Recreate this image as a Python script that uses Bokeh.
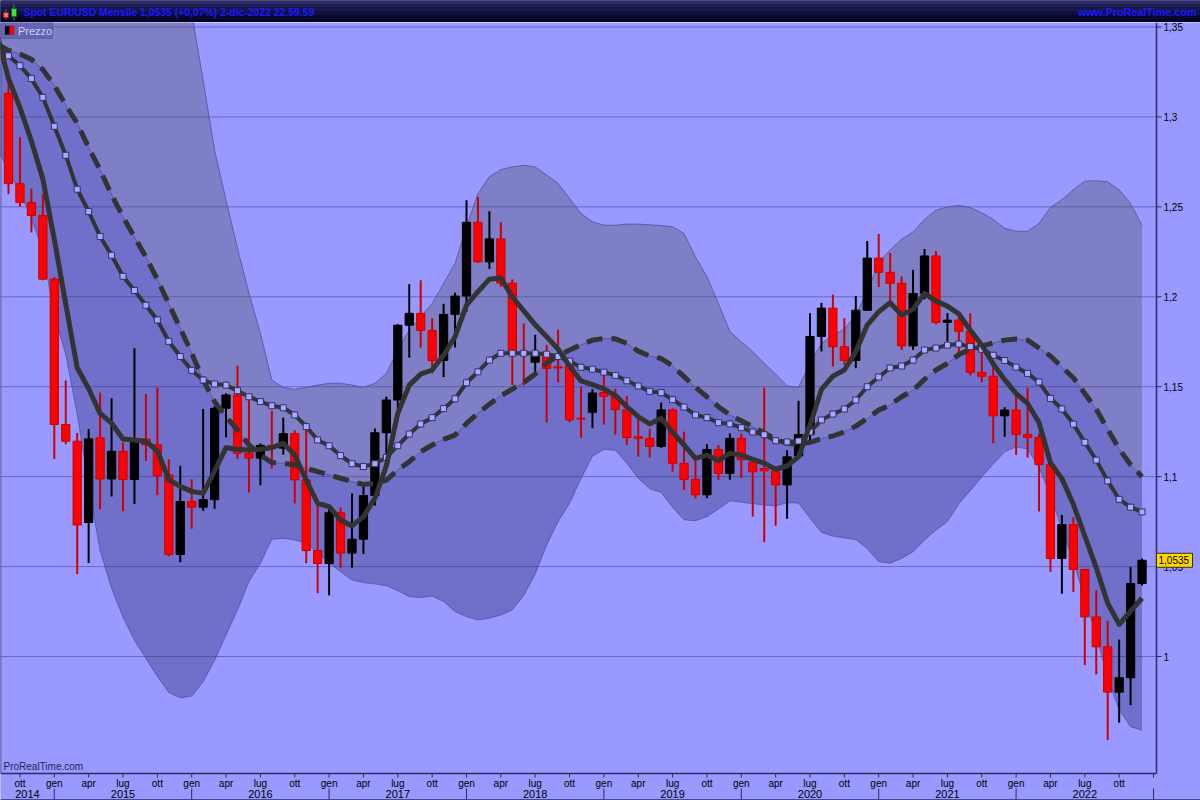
from bokeh.plotting import figure
from bokeh.models import Range1d, Label, BoxAnnotation, ColumnDataSource
from bokeh.layouts import column
from bokeh.embed import file_html
from bokeh.resources import INLINE
from bokeh.core.properties import value

# ---------------- DATA (monthly EUR/USD, Sep 2014 .. Dec 2022) ----------------
first_year, first_month = 2014, 9          # first candle: Sep 2014
month_names = ["gen", "feb", "mar", "apr", "mag", "giu",
               "lug", "ago", "set", "ott", "nov", "dic"]

opens = [
    1.3131, 1.2629, 1.2524, 1.2452,
    1.2098, 1.1290, 1.1197, 1.0745, 1.1216, 1.0987, 1.1141, 1.0984, 1.1209, 1.1177, 1.1010, 1.0567,
    1.0862, 1.0830, 1.0872, 1.1380, 1.1454, 1.1130, 1.1103, 1.1174, 1.1158, 1.1239, 1.0982, 1.0589,
    1.0517, 1.0799, 1.0575, 1.0652, 1.0895, 1.1244, 1.1426, 1.1842, 1.1908, 1.1813, 1.1646, 1.1902,
    1.2004, 1.2414, 1.2194, 1.2322, 1.2076, 1.1694, 1.1636, 1.1667, 1.1610, 1.1617, 1.1325, 1.1358,
    1.1467, 1.1446, 1.1372, 1.1222, 1.1213, 1.1168, 1.1371, 1.1074, 1.0985, 1.0899, 1.1151, 1.1018,
    1.1213, 1.1080, 1.1044, 1.1030, 1.0954, 1.1115, 1.1234, 1.1779, 1.1937, 1.1722, 1.1646, 1.1925,
    1.2215, 1.2136, 1.2075, 1.1727, 1.2018, 1.2227, 1.1858, 1.1870, 1.1808, 1.1580, 1.1558, 1.1338,
    1.1370, 1.1235, 1.1218, 1.1067, 1.0545, 1.0733, 1.0484, 1.0220, 1.0054, 0.9802, 0.9882, 1.0406,
]
highs = [
    1.3222, 1.2887, 1.2601, 1.2570,
    1.2109, 1.1534, 1.1243, 1.1265, 1.1467, 1.1436, 1.1190, 1.1714, 1.1460, 1.1495, 1.1096, 1.1060,
    1.0986, 1.1376, 1.1392, 1.1464, 1.1616, 1.1428, 1.1185, 1.1366, 1.1328, 1.1257, 1.1300, 1.0874,
    1.0829, 1.0829, 1.0906, 1.0950, 1.1268, 1.1445, 1.1847, 1.2070, 1.2092, 1.1880, 1.1961, 1.2023,
    1.2537, 1.2555, 1.2476, 1.2414, 1.2097, 1.1852, 1.1789, 1.1733, 1.1817, 1.1625, 1.1500, 1.1487,
    1.1570, 1.1489, 1.1448, 1.1324, 1.1265, 1.1412, 1.1380, 1.1250, 1.1110, 1.1180, 1.1176, 1.1240,
    1.1240, 1.1096, 1.1495, 1.1048, 1.1147, 1.1422, 1.1908, 1.1966, 1.2012, 1.1881, 1.2004, 1.2310,
    1.2349, 1.2243, 1.2113, 1.2150, 1.2266, 1.2254, 1.1909, 1.1900, 1.1909, 1.1692, 1.1616, 1.1386,
    1.1483, 1.1495, 1.1240, 1.1076, 1.0787, 1.0774, 1.0486, 1.0369, 1.0198, 1.0094, 1.0497, 1.0545,
]
lows = [
    1.2571, 1.2501, 1.2358, 1.2092,
    1.1098, 1.1180, 1.0458, 1.0520, 1.0819, 1.0889, 1.0808, 1.0848, 1.1087, 1.0897, 1.0557, 1.0524,
    1.0710, 1.0810, 1.0822, 1.1217, 1.1098, 1.0912, 1.0952, 1.1046, 1.1122, 1.0851, 1.0518, 1.0352,
    1.0340, 1.0494, 1.0494, 1.0570, 1.0839, 1.1118, 1.1312, 1.1662, 1.1717, 1.1574, 1.1554, 1.1718,
    1.1916, 1.2190, 1.2155, 1.2055, 1.1510, 1.1508, 1.1574, 1.1301, 1.1524, 1.1302, 1.1216, 1.1269,
    1.1289, 1.1234, 1.1176, 1.1110, 1.1107, 1.1160, 1.1028, 1.0926, 1.0879, 1.0880, 1.0981, 1.0983,
    1.0992, 1.0778, 1.0636, 1.0727, 1.0766, 1.1105, 1.1185, 1.1696, 1.1612, 1.1622, 1.1603, 1.1925,
    1.2054, 1.1952, 1.1704, 1.1704, 1.1986, 1.1847, 1.1752, 1.1664, 1.1563, 1.1524, 1.1186, 1.1222,
    1.1121, 1.1106, 1.0806, 1.0471, 1.0349, 1.0359, 0.9952, 0.9901, 0.9536, 0.9632, 0.9730, 1.0394,
]
closes = [
    1.2629, 1.2524, 1.2452, 1.2098,
    1.1290, 1.1197, 1.0731, 1.1210, 1.0987, 1.1141, 1.0984, 1.1195, 1.1177, 1.1005, 1.0567, 1.0862,
    1.0830, 1.0872, 1.1380, 1.1454, 1.1130, 1.1103, 1.1174, 1.1158, 1.1239, 1.0982, 1.0589, 1.0517,
    1.0799, 1.0575, 1.0652, 1.0895, 1.1244, 1.1426, 1.1842, 1.1908, 1.1813, 1.1646, 1.1902, 1.2004,
    1.2414, 1.2194, 1.2322, 1.2076, 1.1694, 1.1684, 1.1672, 1.1602, 1.1604, 1.1315, 1.1320, 1.1465,
    1.1446, 1.1372, 1.1217, 1.1213, 1.1168, 1.1371, 1.1074, 1.0985, 1.0899, 1.1151, 1.1018, 1.1213,
    1.1094, 1.1027, 1.1032, 1.0954, 1.1110, 1.1234, 1.1779, 1.1937, 1.1722, 1.1646, 1.1925, 1.2215,
    1.2136, 1.2075, 1.1727, 1.2018, 1.2227, 1.1858, 1.1870, 1.1808, 1.1580, 1.1558, 1.1338, 1.1370,
    1.1235, 1.1218, 1.1067, 1.0545, 1.0733, 1.0484, 1.0220, 1.0054, 0.9802, 0.9882, 1.0406, 1.0535,
]

# indicators start one month earlier (Aug 2014) so they reach the left edge
fast_ma = [  # thick solid line
    1.346, 1.3213, 1.3052, 1.2866, 1.2655,
    1.232, 1.196, 1.1605, 1.1489, 1.1352, 1.1298, 1.1209, 1.1204, 1.1196, 1.1144, 1.0983, 1.0946,
    1.0918, 1.0907, 1.1032, 1.1161, 1.1152, 1.1148, 1.1152, 1.1161, 1.1185, 1.112, 1.0981, 1.0852,
    1.0833, 1.0759, 1.0726, 1.0778, 1.088, 1.106, 1.1352, 1.1509, 1.157, 1.1593, 1.1676, 1.1778,
    1.1954, 1.2028, 1.2098, 1.2104, 1.2, 1.1922, 1.1844, 1.1778, 1.1709, 1.1615, 1.1532, 1.1512,
    1.1488, 1.1452, 1.1389, 1.1333, 1.1293, 1.1324, 1.1248, 1.1176, 1.1102, 1.112, 1.1089, 1.113,
    1.112, 1.1096, 1.1075, 1.1041, 1.1059, 1.1111, 1.1287, 1.1485, 1.1559, 1.1593, 1.1694, 1.1843,
    1.1917, 1.1967, 1.1898, 1.193, 1.2019, 1.1976, 1.1948, 1.1905, 1.1814, 1.1732, 1.1627, 1.1539,
    1.1462, 1.1407, 1.1301, 1.1077, 1.0989, 1.0846, 1.067, 1.0494, 1.0296, 1.0179, 1.0252, 1.0324,
]
mid_ma = [  # line with square markers
    1.340, 1.334, 1.3285, 1.3213, 1.3109,
    1.2948, 1.2787, 1.2598, 1.2474, 1.2335, 1.2231, 1.2114, 1.2035, 1.1953, 1.1871, 1.1752, 1.1668,
    1.1591, 1.1537, 1.1515, 1.1509, 1.1478, 1.1444, 1.1417, 1.1394, 1.1383, 1.1343, 1.1278, 1.1204,
    1.1172, 1.1117, 1.1072, 1.1056, 1.1072, 1.1107, 1.1172, 1.1237, 1.1293, 1.1328, 1.1378, 1.1433,
    1.1522, 1.1583, 1.1648, 1.1686, 1.1686, 1.1686, 1.1686, 1.1681, 1.1668, 1.1642, 1.1608, 1.1597,
    1.1581, 1.1563, 1.1533, 1.1504, 1.1474, 1.1467, 1.1428, 1.1387, 1.1343, 1.1328, 1.13, 1.1293,
    1.1272, 1.1248, 1.1233, 1.12, 1.1193, 1.1198, 1.1248, 1.1315, 1.1348, 1.1376, 1.1426, 1.15,
    1.1554, 1.1604, 1.1615, 1.1648, 1.1704, 1.1715, 1.1731, 1.1737, 1.1723, 1.1708, 1.1675, 1.1646,
    1.1609, 1.1574, 1.1526, 1.1435, 1.1376, 1.1292, 1.1191, 1.1092, 1.0976, 1.0874, 1.083, 1.0804,
]
slow_ma = [  # dashed line (middle of the band)
    1.3405, 1.337, 1.335, 1.332, 1.3263,
    1.3176, 1.3065, 1.2965, 1.2829, 1.2705, 1.2568, 1.2444, 1.2333, 1.2221, 1.2097, 1.196, 1.1824,
    1.1687, 1.1537, 1.1417, 1.1333, 1.1259, 1.1176, 1.112, 1.1078, 1.1074, 1.1065, 1.1046, 1.1028,
    1.1009, 1.0991, 1.0972, 1.0957, 1.0963, 1.098, 1.1037, 1.1083, 1.1139, 1.1176, 1.1207, 1.1231,
    1.1296, 1.1352, 1.1403, 1.145, 1.1487, 1.1524, 1.157, 1.1631, 1.1672, 1.1704, 1.1733, 1.1759,
    1.1768, 1.1766, 1.1741, 1.1698, 1.167, 1.1657, 1.1615, 1.1556, 1.1496, 1.1444, 1.1389, 1.1343,
    1.1311, 1.1278, 1.1243, 1.1207, 1.1185, 1.1178, 1.1191, 1.1211, 1.1226, 1.1248, 1.1281, 1.1324,
    1.137, 1.1398, 1.1444, 1.1481, 1.1541, 1.1593, 1.163, 1.1679, 1.1708, 1.1726, 1.1743, 1.1759,
    1.1765, 1.1759, 1.1715, 1.1671, 1.1609, 1.155, 1.1462, 1.1374, 1.1264, 1.1154, 1.1066, 1.1,
]
band_upper = [
    1.398, 1.404, 1.412, 1.42, 1.4276,
    1.445, 1.445, 1.458, 1.4708, 1.482, 1.4756, 1.4668, 1.4576, 1.4452, 1.4304, 1.412, 1.3878,
    1.358, 1.3203, 1.2815, 1.2537, 1.2269, 1.2019, 1.1796, 1.1537, 1.1496, 1.1485, 1.1496, 1.1509,
    1.1519, 1.1519, 1.1509, 1.1496, 1.1519, 1.1574, 1.1704, 1.1815, 1.1889, 1.1963, 1.2074, 1.2185,
    1.2389, 1.2574, 1.2667, 1.2707, 1.2722, 1.2731, 1.2722, 1.2676, 1.263, 1.2547, 1.2463, 1.2417,
    1.2398, 1.2398, 1.2404, 1.2404, 1.24, 1.2396, 1.2389, 1.2352, 1.2222, 1.2111, 1.1963, 1.1806,
    1.175, 1.1694, 1.163, 1.157, 1.1504, 1.1496, 1.163, 1.1741, 1.1787, 1.182, 1.19, 1.203,
    1.219, 1.226, 1.232, 1.236, 1.243, 1.2481, 1.25, 1.2508, 1.2496, 1.2467, 1.243, 1.2381,
    1.2364, 1.2364, 1.2408, 1.2496, 1.254, 1.2595, 1.2643, 1.2645, 1.2639, 1.2595, 1.2518, 1.2397,
]
band_lower = [
    1.283, 1.270, 1.258, 1.244, 1.225,
    1.190, 1.168, 1.135, 1.095, 1.059, 1.038, 1.022, 1.009, 0.999, 0.989, 0.980, 0.977,
    0.978, 0.986, 0.998, 1.012, 1.026, 1.0417, 1.0519, 1.0652, 1.0657, 1.0648, 1.063, 1.0574,
    1.0519, 1.0472, 1.0426, 1.0411, 1.0404, 1.0394, 1.0367, 1.0333, 1.0328, 1.0337, 1.0306, 1.025,
    1.0222, 1.0204, 1.0213, 1.0231, 1.026, 1.034, 1.046, 1.062, 1.075, 1.0852, 1.099, 1.1114,
    1.1151, 1.1147, 1.1076, 1.0991, 1.0933, 1.0912, 1.083, 1.076, 1.0755, 1.0778, 1.082, 1.0866,
    1.0858, 1.085, 1.0843, 1.0838, 1.0855, 1.0854, 1.077, 1.069, 1.067, 1.066, 1.065, 1.06,
    1.0528, 1.0519, 1.0546, 1.0583, 1.0648, 1.0704, 1.075, 1.085, 1.0922, 1.1, 1.107, 1.1138,
    1.1166, 1.1154, 1.105, 1.09, 1.071, 1.053, 1.032, 1.012, 0.988, 0.9705, 0.961, 0.959,
]

price_ticks = [1.0, 1.05, 1.1, 1.15, 1.2, 1.25, 1.3, 1.35]
price_tick_labels = ["1", "1,05", "1,1", "1,15", "1,2", "1,25", "1,3", "1,35"]
title_text = "Spot EUR/USD Mensile 1,0535 (+0,07%) 2-dic-2022 22.59.59"
site_text = "www.ProRealTime.com"
legend_text = "Prezzo"
last_price_text = "1,0535"
watermark_text = "ProRealTime.com"

# ---------------- geometry ----------------
n = len(closes)
xk = list(range(n))                    # candle index (0 = Sep 2014)
xi = list(range(-1, n))                # indicator index (-1 = Aug 2014)

FONT = "Liberation Sans"
W = 1200
H_TITLE = 22
H_MAIN = 778
BG = "#9999ff"
DARK = "#2c2c68"

px_per_k = 11.45                       # 11.45 px per month, first candle at x = 8
px_per_v = 1798.6                      # px per price unit; 1.0 at y = 656

x_lo = -8.0 / px_per_k                 # left edge of the window
x_hi = x_lo + W / px_per_k             # right edge of the figure
x_b = (1156 - 8) / px_per_k            # right border of the price area


def kx(px):              # page x pixel -> month index
    return (px - 8) / px_per_k


def vy(py):              # page y pixel -> price
    return 1.0 + (656 - py) / px_per_v


y_hi = vy(H_TITLE)       # top of the price area
y_lo = vy(800)           # bottom of the page
y_b = vy(773)            # bottom border of the price area

# calendar ticks (ott/gen/apr/lug), year separators and year centres
q_ticks, q_labels, jan_ks = [], [], []
for k in range(0, int(x_b) + 1):
    m = (first_month - 1 + k) % 12
    if m in (0, 3, 6, 9):
        q_ticks.append(k)
        q_labels.append(month_names[m] if k + 0.9 < x_b else "")
    if m == 0:
        jan_ks.append(k)
edges = [x_lo] + jan_ks
year_pos = [(edges[i] + edges[i + 1]) / 2.0 for i in range(len(edges) - 1)]
year_lab = [str(first_year + i) for i in range(len(edges) - 1)]

# ---------------- title bar ----------------
t = figure(width=W, height=H_TITLE, x_range=Range1d(0, W), y_range=Range1d(0, H_TITLE),
           toolbar_location=None, output_backend="svg", x_axis_type=None, y_axis_type=None,
           min_border=0, outline_line_color=None,
           background_fill_color="#06062e", border_fill_color="#06062e")
stripe_b = [0, 4, 8, 12, 16, 19]
stripe_t = [4, 8, 12, 16, 19, 22]
stripe_c = ["#02021f", "#08082e", "#10103c", "#181848", "#202056", "#2c2c68"]
t.quad(left=0, right=W, bottom=stripe_b, top=stripe_t, color=stripe_c)
t.segment(x0=[5.5, 13.5], y0=[3, 2], x1=[5.5, 13.5], y1=[13, 18],
          color=["#d04040", "#20a020"], line_width=1)
t.quad(left=[3, 11], right=[8, 16], bottom=[5, 6], top=[10, 14],
       fill_color=["#f07070", "#40e040"], line_color=["#a02020", "#107010"])
t.text(x=[23], y=[10.5], text=[title_text], text_font=value(FONT), text_font_size="10.4px",
       text_font_style="bold", text_color="#1a1aff", text_baseline="middle")
t.text(x=[W - 4], y=[10.5], text=[site_text], text_font=value(FONT), text_font_size="10.8px",
       text_font_style="bold", text_color="#1a1aff", text_baseline="middle", text_align="right")

# ---------------- main chart (one frame, hand-made axes) ----------------
p = figure(width=W, height=H_MAIN, x_range=Range1d(x_lo, x_hi), y_range=Range1d(y_lo, y_hi),
           toolbar_location=None, output_backend="svg", x_axis_type=None, y_axis_type=None,
           min_border=0, background_fill_color=BG, border_fill_color=BG,
           outline_line_color=None)

# horizontal grid lines (price area only)
p.segment(x0=x_lo, x1=x_b, y0=price_ticks, y1=price_ticks,
          line_color="#30307a", line_alpha=0.45, line_width=1)

# two-tone band
p.varea(x=xi, y1=slow_ma, y2=band_upper, fill_color="#46464a", fill_alpha=0.30)
p.varea(x=xi, y1=band_lower, y2=slow_ma, fill_color="#24246a", fill_alpha=0.35)
p.line(xi, band_upper, line_color="#5050a0", line_width=1, line_alpha=0.8)
p.line(xi, band_lower, line_color="#5050a0", line_width=1, line_alpha=0.8)
p.line(xi, slow_ma, line_color="#5050a0", line_width=1, line_alpha=0.8)

# candles
up = [c >= o for o, c in zip(opens, closes)]
src = ColumnDataSource(dict(
    x=xk, low=lows, high=highs,
    bot=[min(o, c) for o, c in zip(opens, closes)],
    top=[max(o, c) for o, c in zip(opens, closes)],
    wick=["#000000" if u else "#cc0000" for u in up],
    fill=["#000000" if u else "#ff0000" for u in up],
    edge=["#000000" if u else "#cc0000" for u in up],
))
p.segment(x0="x", y0="low", x1="x", y1="high", source=src, line_color="wick", line_width=2)
p.vbar(x="x", width=0.72, bottom="bot", top="top", source=src,
       fill_color="fill", line_color="edge", line_width=1)

# moving averages
p.line(xi, slow_ma, line_color="#333333", line_width=5, line_dash="16 9")
p.line(xi, mid_ma, line_color="#333333", line_width=4, line_join="round")
p.scatter(xi, mid_ma, marker="square", size=6, fill_color="#a8a8ff", line_color="#30306a",
          line_width=1)
p.line(xi, fast_ma, line_color="#333333", line_width=5, line_join="round")

# covers so nothing leaks into the axis areas
p.quad(left=x_b, right=x_hi, bottom=y_lo, top=y_hi, fill_color=BG, line_color=None)
p.quad(left=x_lo, right=x_hi, bottom=y_lo, top=y_b, fill_color=BG, line_color=None)

# borders
p.segment(x0=[x_lo, x_lo, x_b], y0=[y_hi, y_b, y_hi], x1=[x_lo, x_b, x_b], y1=[y_b, y_b, y_b],
          line_color=DARK, line_width=1.5)
p.segment(x0=[x_lo], y0=[vy(799.5)], x1=[x_hi], y1=[vy(799.5)], line_color=DARK, line_width=1.5)

# right price axis
tick_len = 5 / px_per_k
p.segment(x0=x_b, x1=x_b + tick_len, y0=price_ticks, y1=price_ticks, line_color=DARK, line_width=1)
p.text(x=x_b + 7 / px_per_k, y=price_ticks, text=price_tick_labels, text_font=value(FONT),
       text_font_size="10px", text_color="#000000", text_baseline="middle")

# last price tag
tag_h = 7.0 / px_per_v
p.quad(left=[x_b], right=[x_b + 36 / px_per_k], bottom=[closes[-1] - tag_h],
       top=[closes[-1] + tag_h], fill_color="#ffd700", line_color="#303030", line_width=1)
p.text(x=[x_b + 2 / px_per_k], y=[closes[-1]], text=[last_price_text], text_font=value(FONT),
       text_font_size="10px", text_color="#000000", text_baseline="middle")

# bottom calendar axis
p.segment(x0=q_ticks, x1=q_ticks, y0=y_b, y1=vy(777), line_color=DARK, line_width=1)
p.text(x=q_ticks, y=[vy(783)] * len(q_ticks), text=q_labels, text_font=value(FONT),
       text_font_size="10px", text_color="#000000", text_baseline="middle", text_align="center")
p.segment(x0=jan_ks, x1=jan_ks, y0=vy(788), y1=vy(799), line_color=DARK, line_width=1)
p.text(x=year_pos, y=[vy(793.5)] * len(year_pos), text=year_lab, text_font=value(FONT),
       text_font_size="11px", text_color="#000000", text_baseline="middle", text_align="center")

# legend box "Prezzo"
p.add_layout(BoxAnnotation(left=kx(0), right=kx(52), top=vy(22), bottom=vy(38),
                           fill_color="#6464b0", fill_alpha=1.0, line_color="#34346e", line_width=1))
p.add_layout(BoxAnnotation(left=kx(4.5), right=kx(9), top=vy(25.5), bottom=vy(34),
                           fill_color="#000000", fill_alpha=1.0, line_color="#202040"))
p.add_layout(BoxAnnotation(left=kx(9), right=kx(13.5), top=vy(25.5), bottom=vy(34),
                           fill_color="#ff0000", fill_alpha=1.0, line_color="#202040"))
p.add_layout(Label(x=kx(17.5), y=vy(30), text=legend_text, text_font=FONT, text_font_size="11px",
                   text_color="#cfcfff", text_baseline="middle"))

# watermark
p.add_layout(Label(x=kx(3), y=vy(766), text=watermark_text, text_font=FONT,
                   text_font_size="10px", text_color="#26265c", text_baseline="middle"))

layout = column(t, p, spacing=0)
open("out.html", "w").write(file_html(layout, INLINE))
